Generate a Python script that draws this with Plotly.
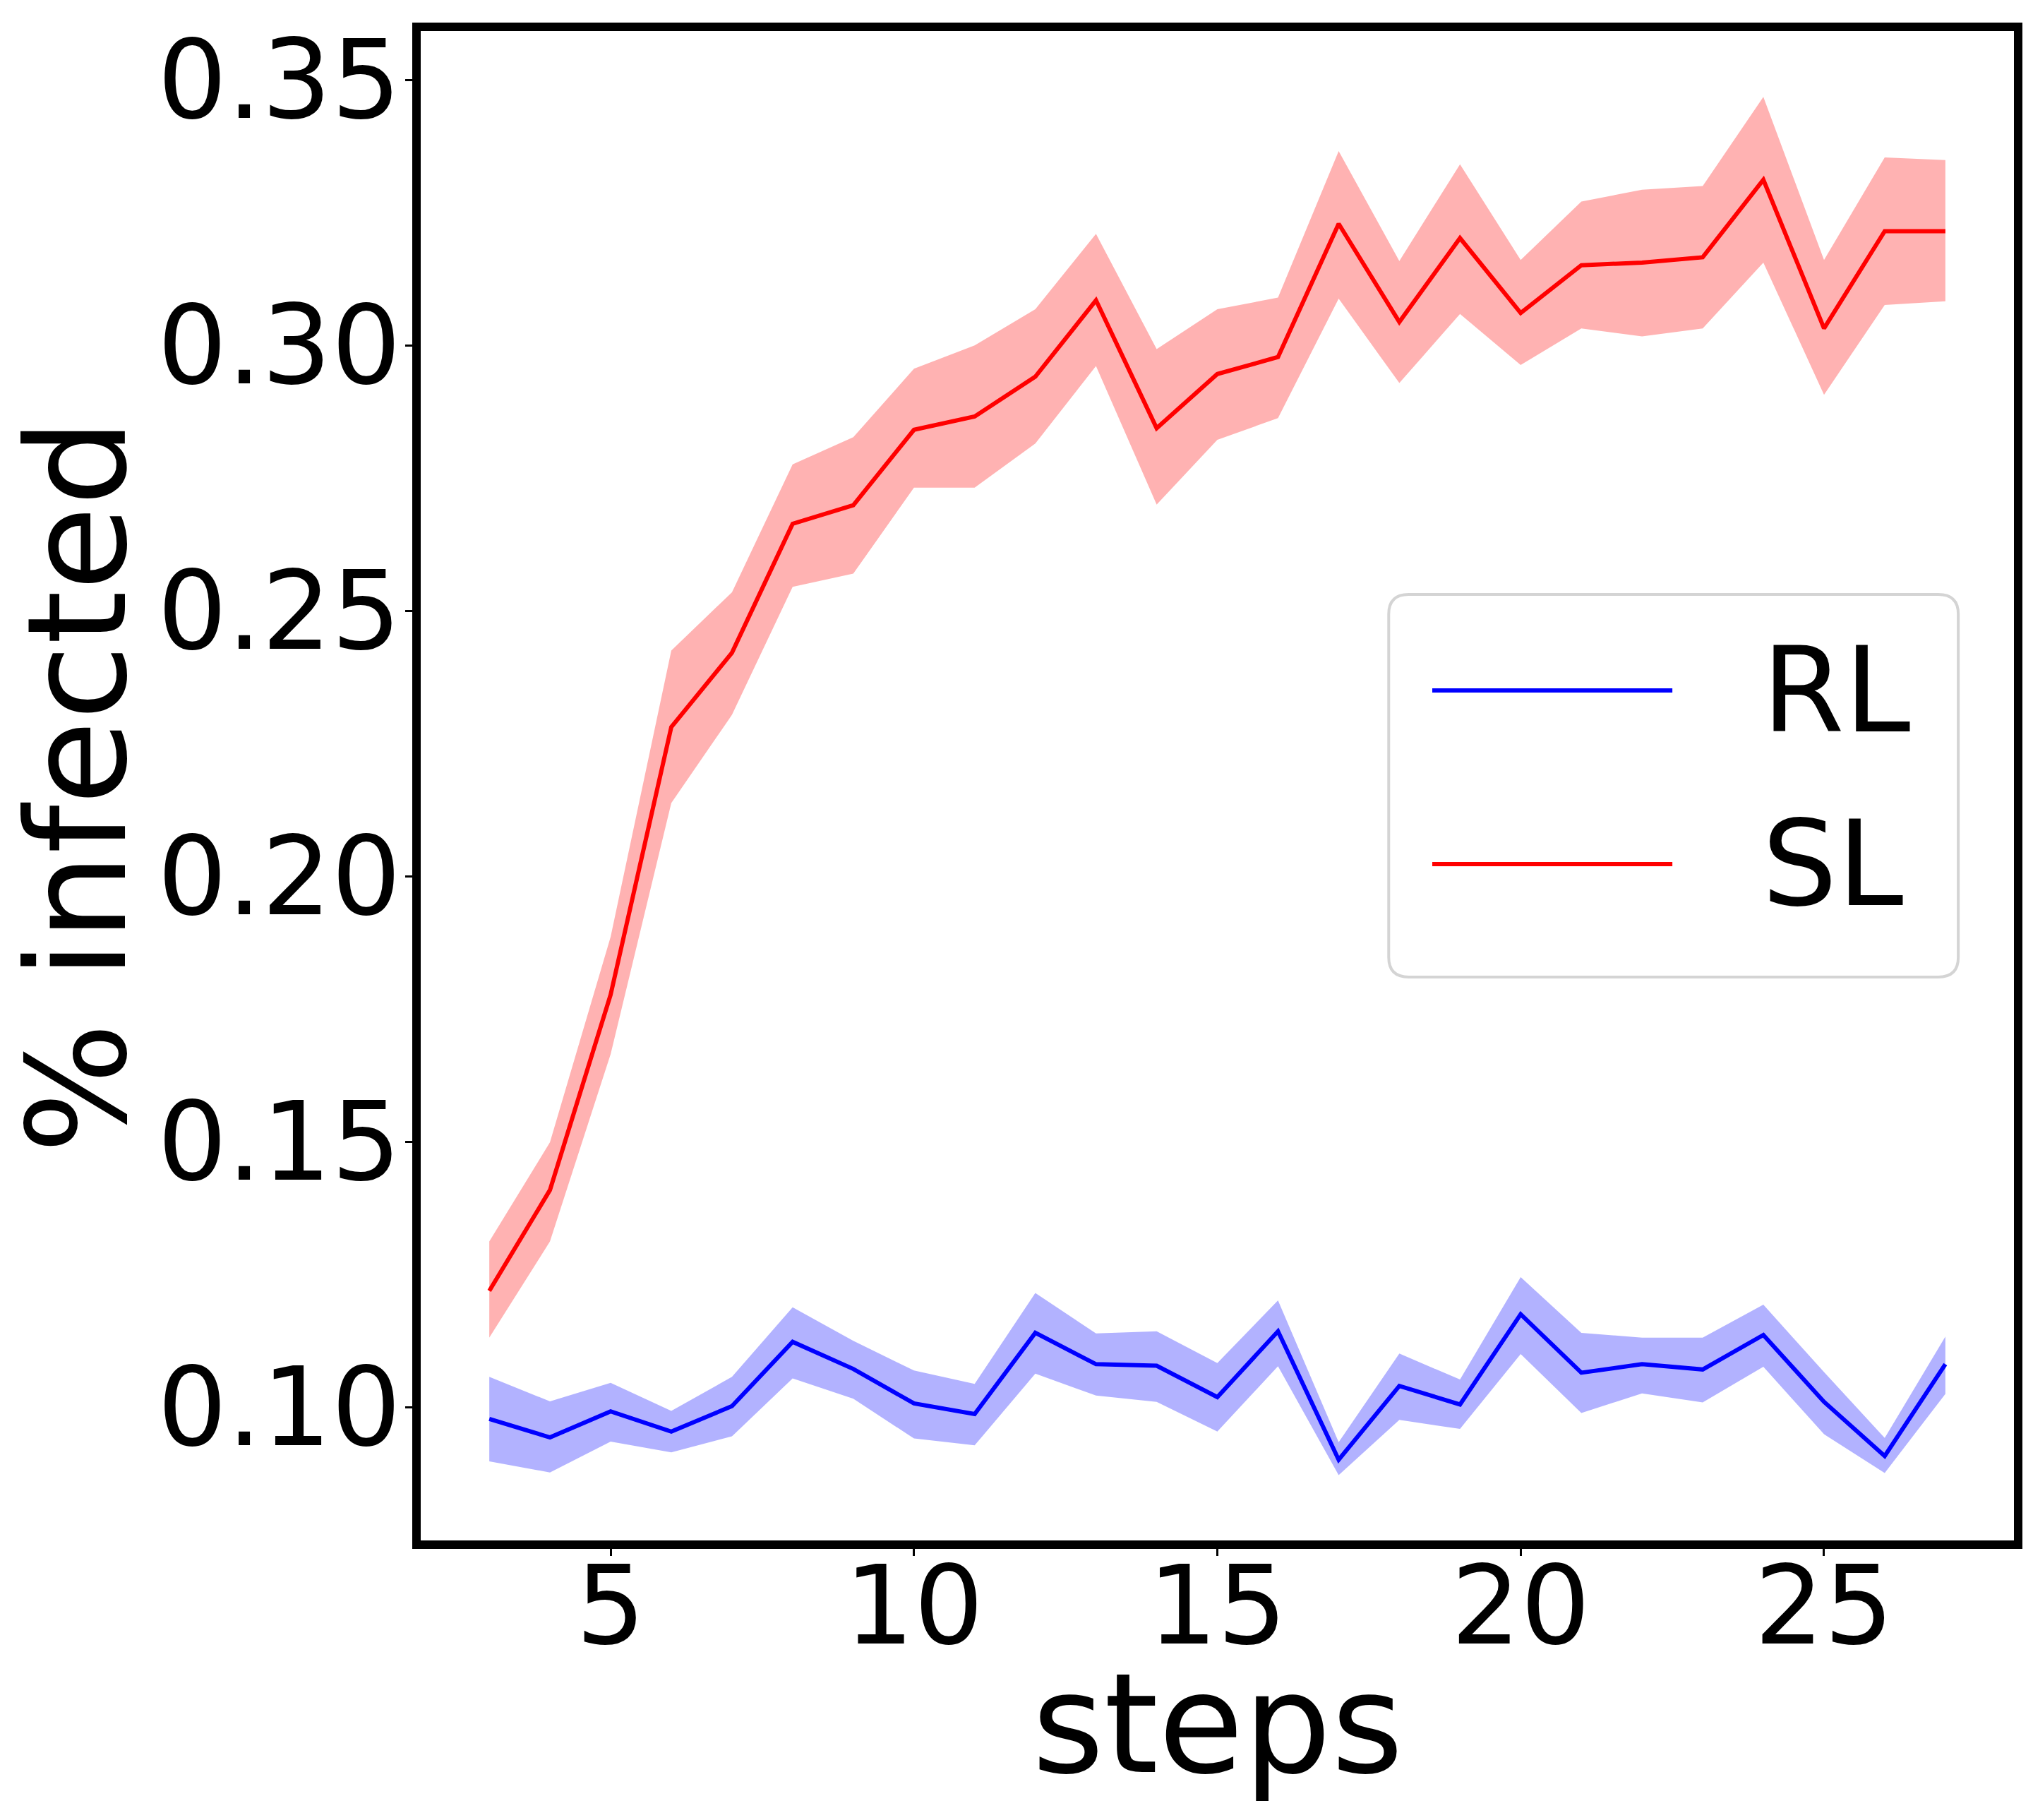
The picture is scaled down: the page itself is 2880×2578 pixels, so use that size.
import plotly.graph_objects as go

steps = list(range(3, 28))

rl_mean = [0.0978, 0.0943, 0.0992, 0.0954, 0.1002, 0.1123, 0.1072, 0.1007, 0.0987, 0.1140,
           0.1081, 0.1078, 0.1019, 0.1143, 0.0901, 0.1040, 0.1005, 0.1175, 0.1065, 0.1081,
           0.1071, 0.1136, 0.1010, 0.0908, 0.1081]
rl_upper = [0.1057, 0.1011, 0.1046, 0.0993, 0.1057, 0.1188, 0.1125, 0.1069, 0.1044, 0.1215,
            0.1139, 0.1143, 0.1083, 0.1201, 0.0934, 0.1101, 0.1052, 0.1245, 0.1140, 0.1131,
            0.1131, 0.1193, 0.1066, 0.0942, 0.1133]
rl_lower = [0.0898, 0.0877, 0.0935, 0.0915, 0.0945, 0.1054, 0.1016, 0.0941, 0.0928, 0.1063,
            0.1022, 0.1010, 0.0954, 0.1077, 0.0872, 0.0976, 0.0959, 0.1100, 0.0989, 0.1026,
            0.1009, 0.1076, 0.0949, 0.0876, 0.1025]

sl_mean = [0.1219, 0.1409, 0.1777, 0.2281, 0.2421, 0.2664, 0.2699, 0.2841, 0.2866, 0.2941,
           0.3085, 0.2844, 0.2946, 0.2978, 0.3229, 0.3044, 0.3202, 0.3061, 0.3151, 0.3156,
           0.3166, 0.3312, 0.3032, 0.3215, 0.3215]
sl_upper = [0.1312, 0.1499, 0.1886, 0.2425, 0.2535, 0.2776, 0.2827, 0.2956, 0.3000, 0.3068,
            0.3210, 0.2993, 0.3068, 0.3090, 0.3366, 0.3159, 0.3341, 0.3161, 0.3271, 0.3293,
            0.3300, 0.3468, 0.3161, 0.3354, 0.3349]
sl_lower = [0.1131, 0.1312, 0.1665, 0.2138, 0.2304, 0.2545, 0.2570, 0.2732, 0.2732, 0.2815,
            0.2961, 0.2700, 0.2822, 0.2863, 0.3088, 0.2929, 0.3059, 0.2963, 0.3032, 0.3017,
            0.3032, 0.3156, 0.2907, 0.3076, 0.3083]

series_names = ["RL", "SL"]
x_ticks = [5, 10, 15, 20, 25]
y_ticks = [0.10, 0.15, 0.20, 0.25, 0.30, 0.35]

FONT = "DejaVu Sans"
fig = go.Figure()

for lo, hi, fillc in [(rl_lower, rl_upper, "rgba(0,0,255,0.3)"),
                      (sl_lower, sl_upper, "rgba(255,0,0,0.3)")]:
    fig.add_trace(go.Scatter(x=steps, y=lo, mode="lines", line=dict(width=0),
                             showlegend=False, hoverinfo="skip"))
    fig.add_trace(go.Scatter(x=steps, y=hi, mode="lines", line=dict(width=0),
                             fill="tonexty", fillcolor=fillc, showlegend=False,
                             hoverinfo="skip"))

fig.add_trace(go.Scatter(x=steps, y=rl_mean, mode="lines", name=series_names[0],
                         line=dict(color="blue", width=6), showlegend=False))
fig.add_trace(go.Scatter(x=steps, y=sl_mean, mode="lines", name=series_names[1],
                         line=dict(color="red", width=6), showlegend=False))

# axes frame (centered on plot edges like matplotlib spines)
fig.add_shape(type="rect", xref="paper", yref="paper", x0=0, x1=1, y0=0, y1=1,
              line=dict(color="black", width=12), fillcolor="rgba(0,0,0,0)", layer="above")

# Legend box (drawn manually to match long legend handles)
x0, x1, y0, y1 = 0.607, 0.9626, 0.374, 0.626
rx, ry = 0.0125, 0.013
path = (f"M{x0+rx},{y0} L{x1-rx},{y0} Q{x1},{y0} {x1},{y0+ry} "
        f"L{x1},{y1-ry} Q{x1},{y1} {x1-rx},{y1} L{x0+rx},{y1} "
        f"Q{x0},{y1} {x0},{y1-ry} L{x0},{y0+ry} Q{x0},{y0} {x0+rx},{y0} Z")
fig.add_shape(type="path", path=path, xref="paper", yref="paper",
              line=dict(color="#d4d4d4", width=4), fillcolor="rgba(255,255,255,0.8)")
legend_y = [0.5628, 0.4484]
for name, color, ly in zip(series_names, ["blue", "red"], legend_y):
    fig.add_shape(type="line", xref="paper", yref="paper", x0=0.6342, x1=0.7841,
                  y0=ly, y1=ly, line=dict(color=color, width=6))
    fig.add_annotation(text=name, xref="paper", yref="paper", x=0.839, y=ly,
                       xanchor="left", yanchor="middle", showarrow=False,
                       font=dict(family=FONT, size=168, color="black"))

fig.add_annotation(text="steps", xref="paper", yref="paper", x=0.5, y=-0.118,
                   xanchor="center", yanchor="middle", showarrow=False,
                   font=dict(family=FONT, size=196, color="black"))
fig.add_annotation(text="% infected", xref="paper", yref="paper", x=-0.212, y=0.5,
                   xanchor="center", yanchor="middle", showarrow=False, textangle=-90,
                   font=dict(family=FONT, size=195, color="black"))

axis_common = dict(showgrid=False, zeroline=False, showline=False,
                   ticks="outside", ticklen=15, tickwidth=2.5,
                   tickcolor="black", tickfont=dict(family=FONT, size=155, color="black"))

fig.update_xaxes(range=[1.8, 28.2], tickvals=x_ticks, ticklabelstandoff=-62, **axis_common)
fig.update_yaxes(range=[0.0741, 0.3600], tickvals=y_ticks, tickformat=".2f",
                 ticklabelstandoff=-25, **axis_common)

fig.update_layout(width=2880, height=2578, plot_bgcolor="white", paper_bgcolor="white",
                  margin=dict(l=582, r=29, t=30, b=398, autoexpand=False),
                  showlegend=False)

fig.write_html("out.html")
